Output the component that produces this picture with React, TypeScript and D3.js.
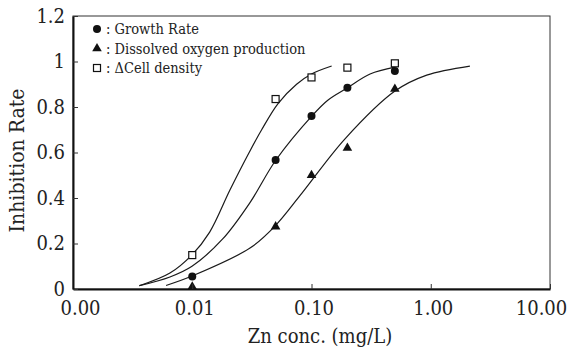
import React, { useEffect, useRef } from 'react';
import * as d3 from 'd3';

// measured points, Zn concentration (mg/L)
const doses = [0.01, 0.05, 0.1, 0.2, 0.5];
const growthRate = [0.055, 0.567, 0.76, 0.885, 0.958];
const oxygenProd = [0.01, 0.274, 0.5, 0.62, 0.879];
const cellDensity = [0.149, 0.835, 0.93, 0.973, 0.992];

// fitted curves: [conc, rate]
const cellFit = [
  [0.0036, 0.0145], [0.0065, 0.07], [0.00995, 0.15], [0.014, 0.25], [0.0207, 0.435],
  [0.03, 0.6], [0.0382, 0.7], [0.0524, 0.815], [0.075, 0.9], [0.1, 0.945], [0.1476, 0.98],
];
const growthFit = [
  [0.0036, 0.0145], [0.0065, 0.053], [0.00995, 0.1], [0.018, 0.22], [0.0305, 0.38],
  [0.0503, 0.567], [0.1005, 0.76], [0.137, 0.83], [0.201, 0.885], [0.31, 0.945], [0.501, 0.975],
];
const oxygenFit = [
  [0.00603, 0.0154], [0.00995, 0.057], [0.0305, 0.18], [0.0501, 0.28],
  [0.08, 0.41], [0.191, 0.66], [0.501, 0.87], [0.925, 0.94], [2.13, 0.98],
];

const xTicks = [0.001, 0.01, 0.1, 1, 10];
const yTicks = [0, 0.2, 0.4, 0.6, 0.8, 1, 1.2];
const legendLabels = [': Growth Rate', ': Dissolved oxygen production', ': \u0394Cell density'];

const App = () => {
  const ref = useRef<SVGSVGElement>(null);

  useEffect(() => {
    document.body.style.margin = '0';
    const width = 568;
    const height = 351;
    const m = { top: 16, right: 18, bottom: 62, left: 73 };
    const font = 'DejaVu Serif Condensed';

    const x = d3.scaleLog().domain([0.001, 10]).range([m.left, width - m.right]);
    const y = d3.scaleLinear().domain([0, 1.2]).range([height - m.bottom, m.top]);

    const svg = d3.select(ref.current);
    svg.selectAll('*').remove();

    // frame: thin top/right
    svg.append('rect')
      .attr('x', m.left).attr('y', m.top)
      .attr('width', width - m.left - m.right)
      .attr('height', height - m.top - m.bottom)
      .attr('fill', 'none').attr('stroke', '#333').attr('stroke-width', 1);

    // curves
    const line = d3.line<number[]>()
      .x(d => x(d[0]))
      .y(d => y(d[1]))
      .curve(d3.curveCatmullRom.alpha(0.5));

    svg.append('g')
      .selectAll('path')
      .data([cellFit, growthFit, oxygenFit])
      .join('path')
      .attr('d', d => line(d))
      .attr('fill', 'none')
      .attr('stroke', '#1a1a1a')
      .attr('stroke-width', 1.2);

    // markers
    svg.append('g')
      .selectAll('circle')
      .data(doses.map((c, i) => [c, growthRate[i]]))
      .join('circle')
      .attr('cx', d => x(d[0])).attr('cy', d => y(d[1]))
      .attr('r', 4).attr('fill', '#111');

    const tri = d3.symbol().type(d3.symbolTriangle).size(40);
    svg.append('g')
      .selectAll('path')
      .data(doses.map((c, i) => [c, oxygenProd[i]]))
      .join('path')
      .attr('transform', d => `translate(${x(d[0])},${y(d[1])})`)
      .attr('d', tri())
      .attr('fill', '#111');

    svg.append('g')
      .selectAll('rect')
      .data(doses.map((c, i) => [c, cellDensity[i]]))
      .join('rect')
      .attr('x', d => x(d[0]) - 3.5).attr('y', d => y(d[1]) - 3.5)
      .attr('width', 7).attr('height', 7)
      .attr('fill', '#fff').attr('stroke', '#111').attr('stroke-width', 1.2);

    // axes
    const xAxis = svg.append('g')
      .attr('transform', `translate(0,${height - m.bottom})`)
      .call(d3.axisBottom(x).tickValues(xTicks).tickSizeInner(-5).tickSizeOuter(0)
        .tickFormat(d => (+d).toFixed(2)));
    xAxis.attr('font-family', font).attr('font-size', 20);
    xAxis.select('.domain').attr('stroke', '#111').attr('stroke-width', 2);
    xAxis.selectAll('.tick line').attr('stroke', '#333');
    xAxis.selectAll('.tick text')
      .attr('fill', '#222')
      .attr('y', 12)
      .attr('dx', (d, i) => (i === 0 ? 7 : i === xTicks.length - 1 ? -9 : 2));

    const yAxis = svg.append('g')
      .attr('transform', `translate(${m.left},0)`)
      .call(d3.axisLeft(y).tickValues(yTicks).tickSizeInner(-5).tickSizeOuter(0)
        .tickFormat(d => String(+(+d).toFixed(1))));
    yAxis.attr('font-family', font).attr('font-size', 20);
    yAxis.select('.domain').attr('stroke', '#111').attr('stroke-width', 2);
    yAxis.selectAll('.tick line').attr('stroke', '#333');
    yAxis.selectAll('.tick text')
      .attr('fill', '#222')
      .attr('x', -8);

    // titles
    svg.append('text')
      .attr('x', 320).attr('y', 343)
      .attr('text-anchor', 'middle')
      .attr('font-family', font).attr('font-size', 20).attr('fill', '#222')
      .text('Zn conc. (mg/L)');

    svg.append('text')
      .attr('transform', `translate(24,${(m.top + height - m.bottom) / 2 + 8}) rotate(-90)`)
      .attr('text-anchor', 'middle')
      .attr('font-family', font).attr('font-size', 21).attr('fill', '#222')
      .text('Inhibition Rate');

    // legend
    const lg = svg.append('g').attr('font-family', font).attr('font-size', 14.5).attr('fill', '#222');
    const rows = lg.selectAll('g')
      .data(legendLabels)
      .join('g')
      .attr('transform', (d, i) => `translate(97,${29 + i * 19.5})`);
    rows.append('text').attr('x', 9).attr('y', 5).text(d => d);
    rows.filter((d, i) => i === 0).append('circle').attr('r', 4).attr('fill', '#111');
    rows.filter((d, i) => i === 1).append('path').attr('d', tri()).attr('fill', '#111');
    rows.filter((d, i) => i === 2).append('rect')
      .attr('x', -3.5).attr('y', -3.5).attr('width', 7).attr('height', 7)
      .attr('fill', '#fff').attr('stroke', '#111').attr('stroke-width', 1.2);
  }, []);

  return <svg ref={ref} width={568} height={351} style={{ display: 'block', background: '#fff' }} />;
};

export default App;
